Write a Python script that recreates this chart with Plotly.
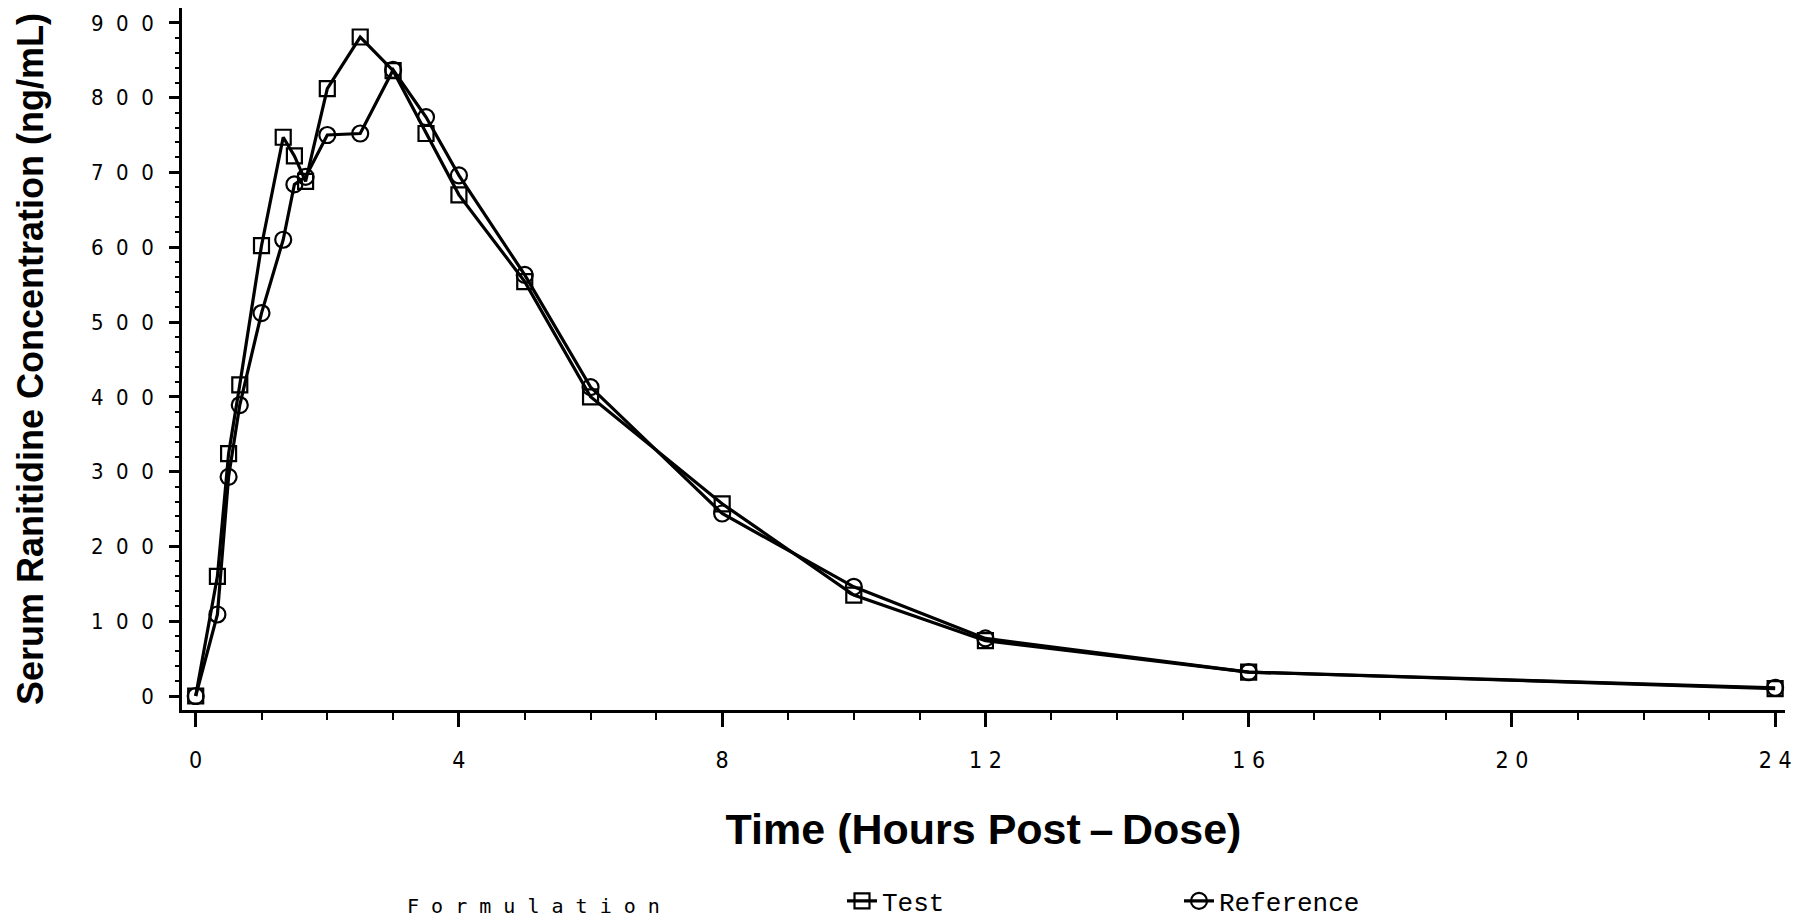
import plotly.graph_objects as go

# ---- data ----
time_h = [0, 0.33, 0.5, 0.67, 1, 1.33, 1.5, 1.67, 2, 2.5, 3, 3.5, 4, 5, 6, 8, 10, 12, 16, 24]
test_conc = [0, 160, 324, 416, 602, 747, 722, 688, 812, 881, 836, 752, 670, 554, 400, 257, 135, 74, 32, 10]
ref_conc = [0, 109, 293, 389, 512, 610, 684, 694, 750, 752, 837, 774, 696, 563, 413, 244, 146, 77, 32, 11]

x_tickvals = [0, 4, 8, 12, 16, 20, 24]
x_ticktext = ["0", "4", "8", "1 2", "1 6", "2 0", "2 4"]
y_tickvals = [0, 100, 200, 300, 400, 500, 600, 700, 800, 900]
y_ticktext = ["0", "1\u00a0\u00a00\u00a0\u00a00", "2\u00a0\u00a00\u00a0\u00a00", "3\u00a0\u00a00\u00a0\u00a00",
              "4\u00a0\u00a00\u00a0\u00a00", "5\u00a0\u00a00\u00a0\u00a00", "6\u00a0\u00a00\u00a0\u00a00",
              "7\u00a0\u00a00\u00a0\u00a00", "8\u00a0\u00a00\u00a0\u00a00", "9\u00a0\u00a00\u00a0\u00a00"]

NARROW = "Liberation Sans Narrow, DejaVu Sans Condensed, Arial Narrow, Arial, sans-serif"
TITLE = "Liberation Sans, Arial, sans-serif"

W, H = 1801, 923

fig = go.Figure()
fig.add_trace(go.Scatter(
    x=time_h, y=test_conc, name="Test", mode="lines+markers",
    line=dict(color="black", width=3.2),
    marker=dict(symbol="square-open", size=15, color="black", line=dict(width=2.2, color="black")),
))
fig.add_trace(go.Scatter(
    x=time_h, y=ref_conc, name="Reference", mode="lines+markers",
    line=dict(color="black", width=3.2),
    marker=dict(symbol="circle-open", size=16, color="black", line=dict(width=2.2, color="black")),
))

fig.update_layout(
    width=W, height=H,
    margin=dict(l=182, r=16, t=8, b=213, autoexpand=False),
    paper_bgcolor="white", plot_bgcolor="white",
    showlegend=True,
    legend=dict(
        orientation="h", xref="container", yref="container",
        x=842 / W, xanchor="left",
        y=1 - 901 / H, yanchor="middle",
        font=dict(family="Liberation Mono, Courier New, monospace", size=26, color="black"),
        entrywidth=292, entrywidthmode="pixels",
        bgcolor="rgba(0,0,0,0)",
    ),
    annotations=[dict(
        text="F o r m u l a t i o n", xref="paper", yref="paper",
        x=(405 - 182) / 1603, xanchor="left", y=(710 - 906) / 702, yanchor="middle",
        showarrow=False,
        font=dict(family="DejaVu Sans Mono, Liberation Mono, monospace", size=20, color="black"),
    )],
)

fig.update_xaxes(
    range=[-0.208, 24.15], showgrid=False, zeroline=False, automargin=False,
    showline=True, linecolor="black", linewidth=2.5,
    tickvals=x_tickvals, ticktext=x_ticktext,
    ticks="outside", ticklen=14, tickwidth=2.5, tickcolor="black",
    minor=dict(dtick=1, ticks="outside", ticklen=7, tickwidth=2, tickcolor="black"),
    tickfont=dict(family=NARROW, size=23, color="black"),
    ticklabelstandoff=14,
    title=dict(text="<b>Time (Hours Post\u2009–\u2009Dose)</b>", standoff=42,
               font=dict(family=TITLE, size=43, color="black")),
)
fig.update_yaxes(
    range=[-18.7, 919.8], showgrid=False, zeroline=False, automargin=False,
    showline=True, linecolor="black", linewidth=2.5,
    tickvals=y_tickvals, ticktext=y_ticktext,
    ticks="outside", ticklen=10, tickwidth=2.5, tickcolor="black",
    minor=dict(dtick=20, ticks="outside", ticklen=4, tickwidth=2, tickcolor="black"),
    tickfont=dict(family=NARROW, size=22, color="black"),
    ticklabelstandoff=11,
    title=dict(text="<b>Serum Ranitidine Concentration (ng/mL)</b>", standoff=37,
               font=dict(family=TITLE, size=36, color="black")),
)

fig.write_html("out.html", config={"displayModeBar": False},
               post_script="document.body.style.margin='0px';")
